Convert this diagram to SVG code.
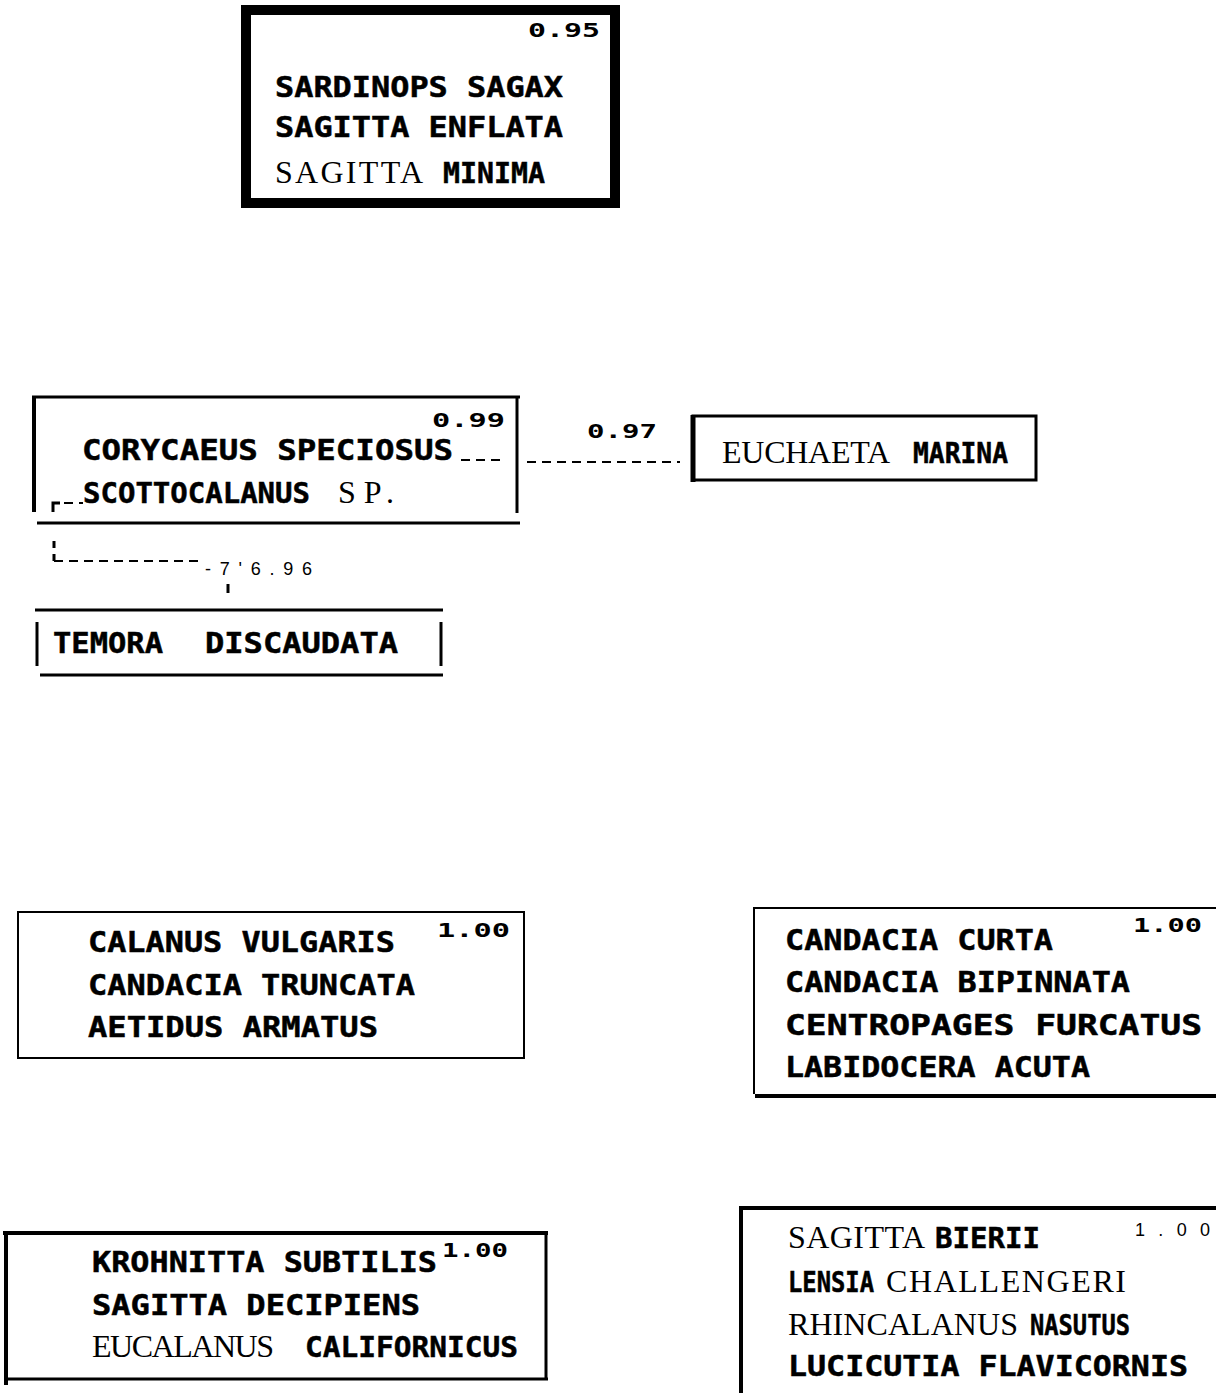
<svg xmlns="http://www.w3.org/2000/svg" width="1216" height="1393" viewBox="0 0 1216 1393">
<style>
.b{font-family:"DejaVu Sans Mono","Liberation Mono",monospace;font-weight:bold;font-size:29px;fill:#000;stroke:#000;stroke-width:0.5}
.t{font-family:"Liberation Serif","DejaVu Serif",serif;font-size:32px;fill:#000}
.n{font-family:"DejaVu Sans Mono","Liberation Mono",monospace;font-weight:bold;font-size:19px;fill:#000}
.s{font-family:"Liberation Sans","DejaVu Sans",sans-serif;font-size:18px;fill:#000}
.ln{stroke:#000;fill:none}
.d{stroke:#000;fill:none;stroke-width:2;stroke-dasharray:9 6}
</style>
<rect width="1216" height="1393" fill="#fff"/>

<g id="node-sardinops">
<rect x="246" y="10" width="369" height="193" class="ln" stroke-width="10"/>
<text class="n" x="528" y="37" textLength="72" lengthAdjust="spacingAndGlyphs">0.95</text>
<text class="b" x="275" y="97" textLength="288" lengthAdjust="spacingAndGlyphs">SARDINOPS SAGAX</text>
<text class="b" x="275" y="137" textLength="288" lengthAdjust="spacingAndGlyphs">SAGITTA ENFLATA</text>
<text class="t" x="275" y="183" textLength="148" lengthAdjust="spacing">SAGITTA</text>
<text class="b" x="443" y="183" textLength="102" lengthAdjust="spacingAndGlyphs">MINIMA</text>
</g>

<g id="node-corycaeus">
<line x1="32" y1="397" x2="520" y2="397" class="ln" stroke-width="3"/>
<line x1="34" y1="396" x2="34" y2="512" class="ln" stroke-width="4"/>
<line x1="517" y1="396" x2="517" y2="513" class="ln" stroke-width="3"/>
<line x1="37" y1="523" x2="520" y2="523" class="ln" stroke-width="3"/>
<text class="n" x="432" y="427" textLength="73" lengthAdjust="spacingAndGlyphs">0.99</text>
<text class="b" x="82" y="460" textLength="371" lengthAdjust="spacingAndGlyphs">CORYCAEUS SPECIOSUS</text>
<text class="b" x="83" y="503" textLength="227" lengthAdjust="spacingAndGlyphs">SCOTTOCALANUS</text>
<text class="t" x="338" y="503" textLength="56" lengthAdjust="spacing">SP.</text>
</g>

<g id="node-euchaeta">
<rect x="693" y="416" width="343" height="64" class="ln" stroke-width="3"/>
<line x1="693" y1="415" x2="693" y2="482" class="ln" stroke-width="5"/>
<text class="t" x="722" y="463" textLength="168" lengthAdjust="spacing">EUCHAETA</text>
<text class="b" x="913" y="463" textLength="95" lengthAdjust="spacingAndGlyphs">MARINA</text>
</g>

<g id="node-temora">
<line x1="35" y1="610" x2="443" y2="610" class="ln" stroke-width="3"/>
<line x1="37" y1="622" x2="37" y2="666" class="ln" stroke-width="3"/>
<line x1="441" y1="622" x2="441" y2="666" class="ln" stroke-width="3"/>
<line x1="40" y1="675" x2="443" y2="675" class="ln" stroke-width="3"/>
<text class="b" x="53" y="653" textLength="110" lengthAdjust="spacingAndGlyphs">TEMORA</text>
<text class="b" x="205" y="653" textLength="193" lengthAdjust="spacingAndGlyphs">DISCAUDATA</text>
</g>

<g id="connectors">
<line x1="461" y1="460" x2="505" y2="460" class="d"/>
<line x1="527" y1="462" x2="680" y2="462" class="d"/>
<text class="n" x="587" y="438" textLength="70" lengthAdjust="spacingAndGlyphs">0.97</text>
<path d="M53 512 V503 H60" class="ln" stroke-width="3"/>
<line x1="64" y1="503" x2="83" y2="503" class="d"/>
<line x1="54" y1="541" x2="54" y2="561" class="ln" stroke-width="3" stroke-dasharray="7 6"/>
<line x1="54" y1="561" x2="200" y2="561" class="d"/>
<text class="s" x="205" y="575" textLength="107" lengthAdjust="spacing">-7'6.96</text>
<line x1="228" y1="584" x2="228" y2="593" class="ln" stroke-width="3"/>
</g>

<g id="node-calanus">
<rect x="18" y="912" width="506" height="146" class="ln" stroke-width="2"/>
<text class="b" x="88" y="952" textLength="307" lengthAdjust="spacingAndGlyphs">CALANUS VULGARIS</text>
<text class="n" x="437" y="937" textLength="73" lengthAdjust="spacingAndGlyphs">1.00</text>
<text class="b" x="88" y="995" textLength="327" lengthAdjust="spacingAndGlyphs">CANDACIA TRUNCATA</text>
<text class="b" x="88" y="1037" textLength="290" lengthAdjust="spacingAndGlyphs">AETIDUS ARMATUS</text>
</g>

<g id="node-candacia">
<line x1="753" y1="908" x2="1216" y2="908" class="ln" stroke-width="2"/>
<line x1="754" y1="907" x2="754" y2="1094" class="ln" stroke-width="2"/>
<line x1="755" y1="1096" x2="1216" y2="1096" class="ln" stroke-width="4"/>
<text class="b" x="785" y="950" textLength="268" lengthAdjust="spacingAndGlyphs">CANDACIA CURTA</text>
<text class="n" x="1133" y="932" textLength="69" lengthAdjust="spacingAndGlyphs">1.00</text>
<text class="b" x="785" y="992" textLength="345" lengthAdjust="spacingAndGlyphs">CANDACIA BIPINNATA</text>
<text class="b" x="785" y="1035" textLength="417" lengthAdjust="spacingAndGlyphs">CENTROPAGES FURCATUS</text>
<text class="b" x="785" y="1077" textLength="305" lengthAdjust="spacingAndGlyphs">LABIDOCERA ACUTA</text>
</g>

<g id="node-krohnitta">
<line x1="3" y1="1233" x2="548" y2="1233" class="ln" stroke-width="4"/>
<line x1="6" y1="1232" x2="6" y2="1385" class="ln" stroke-width="4"/>
<line x1="546" y1="1233" x2="546" y2="1380" class="ln" stroke-width="3"/>
<line x1="6" y1="1379" x2="548" y2="1379" class="ln" stroke-width="3"/>
<text class="b" x="92" y="1272" textLength="345" lengthAdjust="spacingAndGlyphs">KROHNITTA SUBTILIS</text>
<text class="n" x="442" y="1257" textLength="66" lengthAdjust="spacingAndGlyphs">1.00</text>
<text class="b" x="92" y="1315" textLength="328" lengthAdjust="spacingAndGlyphs">SAGITTA DECIPIENS</text>
<text class="t" x="92" y="1357" textLength="182" lengthAdjust="spacing">EUCALANUS</text>
<text class="b" x="305" y="1357" textLength="213" lengthAdjust="spacingAndGlyphs">CALIFORNICUS</text>
</g>

<g id="node-sagitta-bierii">
<line x1="740" y1="1208" x2="1216" y2="1208" class="ln" stroke-width="4"/>
<line x1="741" y1="1206" x2="741" y2="1393" class="ln" stroke-width="4"/>
<text class="t" x="788" y="1248" textLength="137" lengthAdjust="spacing">SAGITTA</text>
<text class="b" x="935" y="1248" textLength="105" lengthAdjust="spacingAndGlyphs">BIERII</text>
<text class="s" x="1135" y="1236" textLength="75" lengthAdjust="spacing">1.00</text>
<text class="b" x="788" y="1292" textLength="86" lengthAdjust="spacingAndGlyphs">LENSIA</text>
<text class="t" x="886" y="1292" textLength="240" lengthAdjust="spacing">CHALLENGERI</text>
<text class="t" x="788" y="1335" textLength="230" lengthAdjust="spacing">RHINCALANUS</text>
<text class="b" x="1030" y="1335" textLength="100" lengthAdjust="spacingAndGlyphs">NASUTUS</text>
<text class="b" x="788" y="1376" textLength="400" lengthAdjust="spacingAndGlyphs">LUCICUTIA FLAVICORNIS</text>
</g>
</svg>
